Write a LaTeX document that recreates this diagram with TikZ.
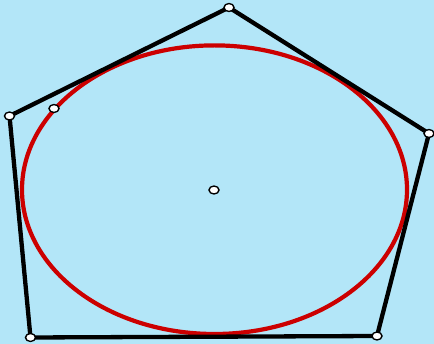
\documentclass[tikz,border=0pt]{standalone}
\usepackage{tikz}
\usetikzlibrary{shapes.geometric}
\definecolor{skyc}{HTML}{B3E6F8}
\definecolor{conc}{HTML}{CC0000}
\tikzset{
  side/.style={line width=4.3pt,black,line join=round},
  conic/.style={line width=4.2pt,conc},
  pt/.style={ellipse,draw=black,line width=1.4pt,fill=white,minimum width=10pt,minimum height=8pt,inner sep=0pt}
}
\begin{document}
\begin{tikzpicture}[x=1pt,y=-1pt]
\fill[skyc] (0,0) rectangle (434,344);
\useasboundingbox (0,0) rectangle (434,344);
% pentagon corners
\coordinate (A) at (229,7.5);
\coordinate (B) at (429,133.5);
\coordinate (C) at (377,336);
\coordinate (D) at (30.5,337.5);
\coordinate (E) at (9.5,116);
\coordinate (O) at (214,190);
\coordinate (P) at (54,108.5);
\draw[conic] (214.5,189.7) ellipse [x radius=192.5pt, y radius=144.3pt];
\draw[side] (A) -- (B) -- (C) -- (D) -- (E) -- cycle;
\foreach \p in {A,B,C,D,E,O,P}{\node[pt] (n\p) at (\p) {};}
\end{tikzpicture}
\end{document}
